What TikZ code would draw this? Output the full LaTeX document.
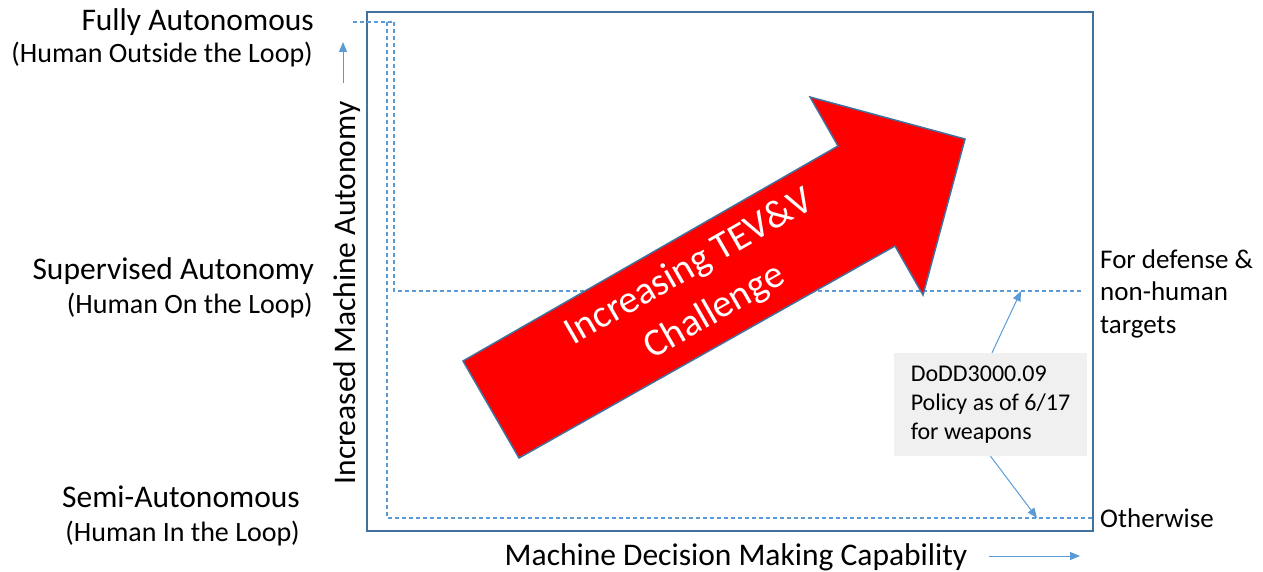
\documentclass[tikz,border=0pt]{standalone}
\usepackage{fontspec}
\setmainfont{Carlito}
\usetikzlibrary{arrows.meta}
\definecolor{frameblue}{RGB}{65,113,156}
\definecolor{lightblue}{RGB}{91,155,213}
\definecolor{boxgray}{RGB}{240,240,240}
\begin{document}
\begin{tikzpicture}[x=1pt,y=-1pt,
  lbl/.style={inner sep=0pt, font=\fontsize{31.5}{38}\selectfont},
  sublbl/.style={inner sep=0pt, font=\fontsize{28}{34}\selectfont},
  rlbl/.style={inner sep=0pt, align=left, font=\fontsize{27}{32.5}\selectfont},
  guide/.style={lightblue, dash pattern=on 4pt off 3pt, line width=1.2pt},
  pointer/.style={lightblue, line width=1pt, -{Triangle[length=10pt,width=8pt]}},
  bigarrow/.style={fill=red, draw=frameblue, line width=1.5pt, line join=miter}]
\useasboundingbox (0,0) rectangle (1263,572);

% frame
\node[draw=frameblue, line width=2pt, minimum width=726pt, minimum height=519pt, inner sep=0pt] (frame) at (730,271.5) {};

% dashed guide lines
\coordinate (gtl) at (353,22);
\coordinate (gtr) at (395,22);
\coordinate (o1) at (387,22);
\coordinate (o2) at (387,518);
\coordinate (o3) at (1093,518);
\coordinate (i1) at (394,22);
\coordinate (i2) at (394,291);
\coordinate (i3) at (1082,291);
\draw[guide] (gtl) -- (gtr);
\draw[guide] (o1) -- (o2) -- (o3);
\draw[guide] (i1) -- (i2) -- (i3);

% big red arrow
\draw[bigarrow] (463,361) -- (838,146) -- (810,97) -- (965,139) -- (923,295) -- (895,246) -- (519,458) -- cycle;
\node[rotate=29.8, text=white, align=center, inner sep=0pt, font=\fontsize{39}{51}\selectfont] (tev) at (702,290) {Increasing TEV\&V\\Challenge};

% left labels
\node[lbl, anchor=base east] (full) at (314,31) {Fully Autonomous};
\node[sublbl, anchor=base east] (fullsub) at (313,63) {(Human Outside the Loop)};
\node[lbl, anchor=base east] (sup) at (314,279) {Supervised Autonomy};
\node[sublbl, anchor=base east] (supsub) at (313,313) {(Human On the Loop)};
\node[lbl, anchor=base east] (semi) at (300,507) {Semi-Autonomous};
\node[sublbl, anchor=base east] (semisub) at (300,541) {(Human In the Loop)};

% axis titles
\node[lbl, rotate=90, anchor=base] (yaxis) at (355,293) {Increased Machine Autonomy};
\node[lbl, anchor=base] (xaxis) at (736,565) {Machine Decision Making Capability};

% axis arrows
\coordinate (ya1) at (343,83);
\coordinate (ya2) at (343,42);
\draw[pointer] (ya1) -- (ya2);
\coordinate (xa1) at (989,556);
\coordinate (xa2) at (1080,556);
\draw[pointer] (xa1) -- (xa2);

% right labels
\node[rlbl, anchor=base west] (defense) at (1100,333) {For defense \&\\non-human\\targets};
\node[rlbl, anchor=base west] (other) at (1100,527) {Otherwise};

% policy box
\node[fill=boxgray, minimum width=193pt, minimum height=103pt, inner sep=0pt, align=left, font=\fontsize{24}{29}\selectfont] (policy) at (990.5,404.5) {DoDD3000.09\\Policy as of 6/17\\for weapons};
\coordinate (upT) at (1021,291);
\coordinate (loT) at (1037,518);
\draw[pointer] ([xshift=1.5pt]policy.north) -- (upT);
\draw[pointer] (policy.south) -- (loT);
\end{tikzpicture}
\end{document}
